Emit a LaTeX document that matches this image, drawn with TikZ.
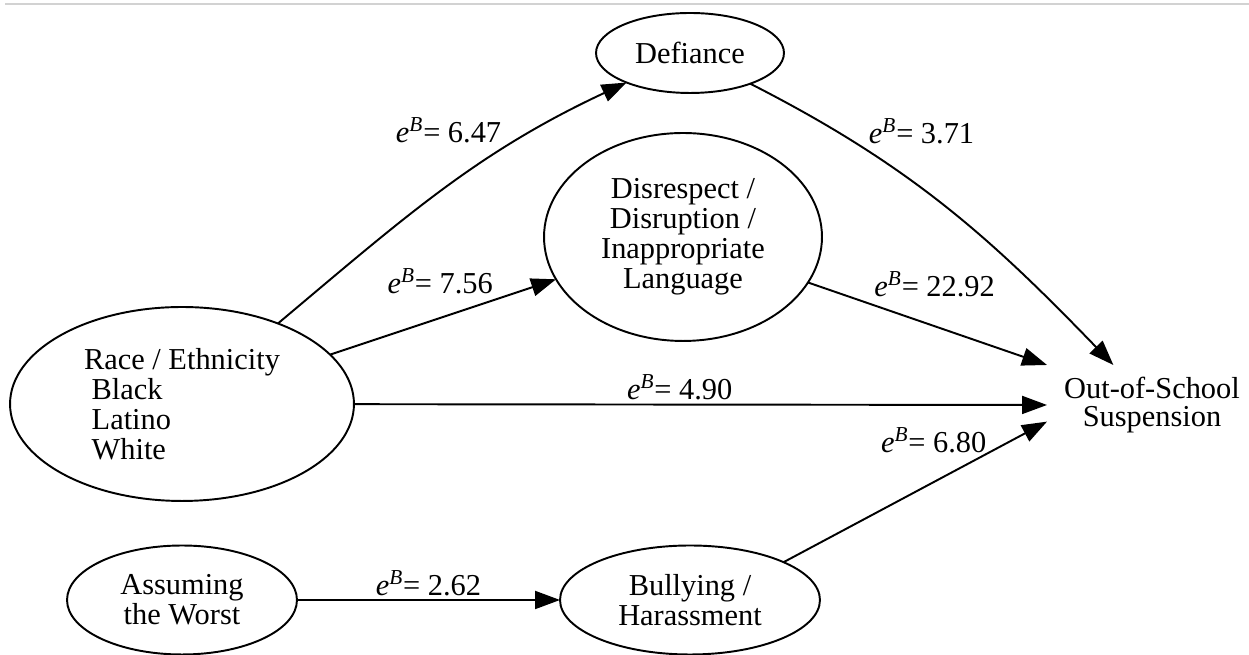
\documentclass[tikz,border=0pt]{standalone}
\usepackage{fontspec}
\setmainfont{Liberation Serif}
\usepackage{tikz}
\usetikzlibrary{positioning,shapes.geometric,arrows.meta}

\newcommand{\coefB}[1]{\textit{e}\textsuperscript{\textit{B}}= #1}

\begin{document}
\begin{tikzpicture}
[
x=0.02cm, y=0.02cm,
font=\fontsize{17.3}{17}\selectfont,
var-a/.style={ellipse, draw, line width=1.1pt, inner sep=0pt, outer sep=0pt, align=center},
var-b/.style={rectangle, inner sep=0pt, outer sep=0pt, align=center, minimum width=4.2cm, minimum height=1.6cm},
coef-a/.style={inner sep=2pt},
path-a/.style={-{Triangle[length=5mm, width=3.6mm]}, line width=1.1pt}
]

\useasboundingbox (0,0) rectangle (1249,655);
\draw [gray!35, line width=0.7pt] (5,651) -- (1249,651);

\node (var-defiance)   [var-a, minimum width=3.76cm, minimum height=1.60cm] at (690,602) {Defiance};
\node (var-disrespect) [var-a, minimum width=5.56cm, minimum height=4.16cm] at (683,418) {Disrespect /\\Disruption /\\Inappropriate\\Language};
\node (var-race)       [var-a, minimum width=6.88cm, minimum height=3.88cm, align=left] at (182,251) {Race / Ethnicity\\\ Black\\\ Latino\\\ White};
\node (var-assume)     [var-a, minimum width=4.60cm, minimum height=2.18cm] at (182,55)  {Assuming\\the Worst};
\node (var-bully)      [var-a, minimum width=5.20cm, minimum height=2.18cm] at (690,55)  {Bullying /\\Harassment};
\node (var-oos)        [var-b, font=\fontsize{17.3}{16}\selectfont]         at (1152,250) {Out-of-School\\Suspension};

\draw [path-a] (var-race) to[out=40, in=205] node[coef-a, pos=0.69, above left] {\coefB{6.47}} (var-defiance);
\draw [path-a] (var-race) -- (var-disrespect) node[coef-a, pos=0.74, above left] {\coefB{7.56}};
\draw [path-a] (var-race) -- (var-oos.west) node[coef-a, pos=0.47, above] {\coefB{4.90}};
\draw [path-a] (var-defiance) to[out=-27, in=134] node[coef-a, pos=0.27, above right] {\coefB{3.71}} (var-oos.134);
\draw [path-a] (var-disrespect.-20) -- (var-oos.north west) node[coef-a, pos=0.53, above=5mm] {\coefB{22.92}};
\draw [path-a] (var-bully.22) -- (var-oos.189) node[coef-a, pos=0.57, above=5mm] {\coefB{6.80}};
\draw [path-a] (var-assume) -- (var-bully) node[coef-a, pos=0.5, above] {\coefB{2.62}};

\end{tikzpicture}
\end{document}
